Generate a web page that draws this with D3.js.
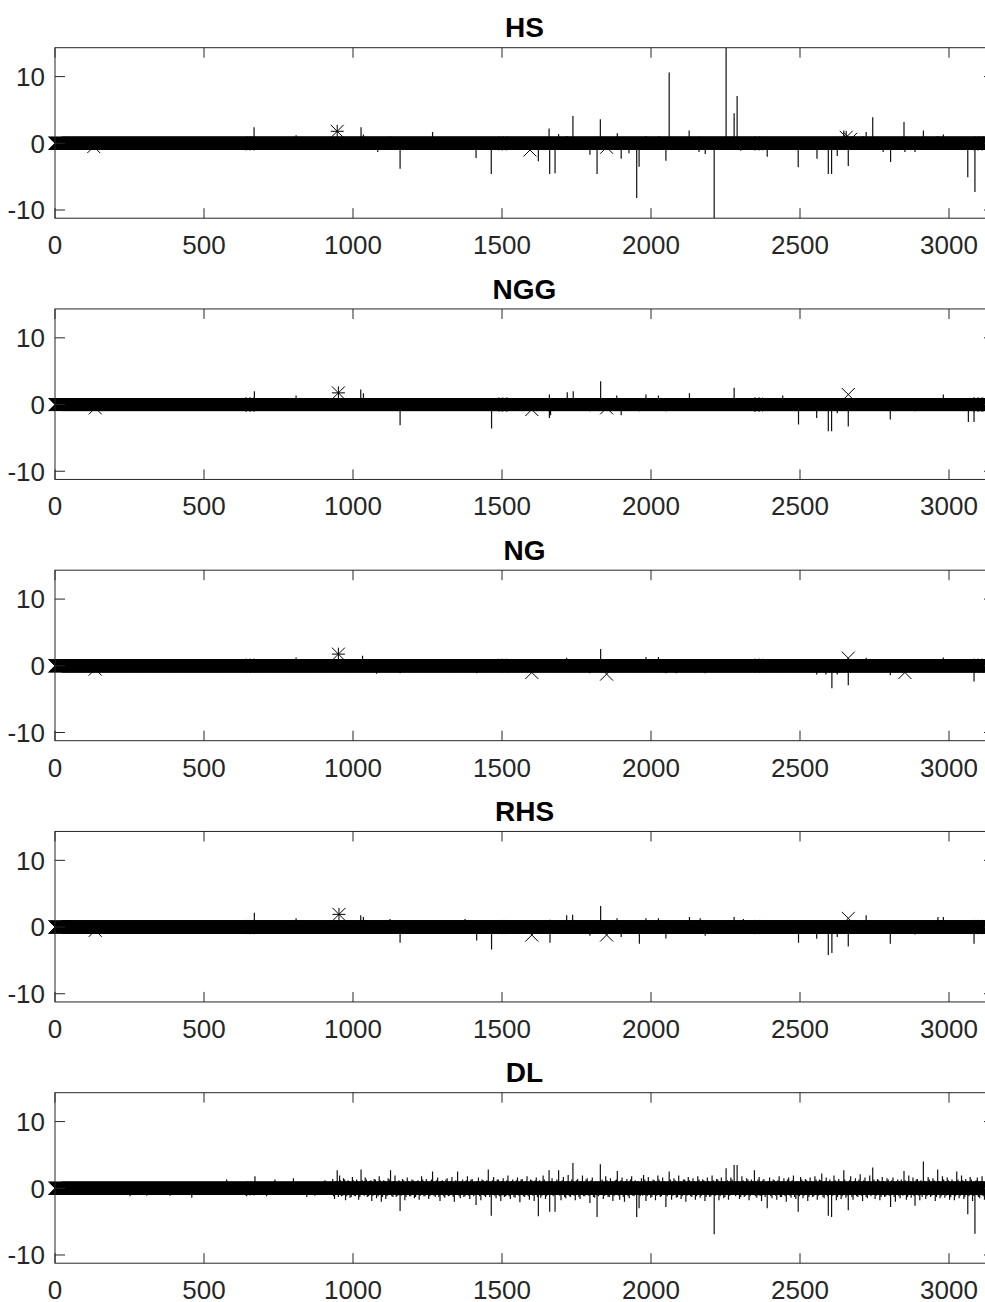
<!DOCTYPE html>
<html>
<head>
<meta charset="utf-8">
<script src="https://cdn.jsdelivr.net/npm/d3@7"></script>
<style>
  body { margin: 0; background: #fff; }
  svg { display: block; font-family: "Liberation Sans", Arial, Helvetica, sans-serif; }
</style>
</head>
<body>
<svg id="chart" width="985" height="1302"></svg>
<script>

// ---------------- data ----------------

var titles = ["HS", "NGG", "NG", "RHS", "DL"];
var xTicks = [0, 500, 1000, 1500, 2000, 2500, 3000];
var yTicks = [-10, 0, 10];
var nSamples = 3151;          // length of each signal
var yLimits = [-11.23, 14.33]; // shared y limits (tight to HS)

// stems that stick out of the marker band: [sample, value]
var hsSpikes = [
  [668, 2.4], [809, 1.2], [1027, 2.4], [1035, 1.3], [1083, -1.3], [1126, 1.0],
  [1158, -3.8], [1267, 1.7], [1413, -2.2], [1464, -4.6], [1622, -2.7],
  [1658, 2.2], [1660, -4.6], [1678, -4.5], [1690, 1.4], [1717, 1.1], [1738, 4.1],
  [1795, -1.7], [1819, -4.6], [1830, 3.6], [1887, 1.5], [1900, -2.3],
  [1926, -1.5], [1952, -8.2], [1960, -3.5], [1983, 1.1], [2027, 1.1],
  [2050, -2.6], [2061, 10.6], [2128, 1.9], [2161, 1.0], [2161, -1.3],
  [2182, -1.6], [2212, -11.23], [2252, 14.33], [2279, 4.5], [2289, 7.1],
  [2301, -1.1], [2390, -2.0], [2494, -3.6], [2557, -2.3], [2595, -4.6],
  [2606, -4.6], [2625, -1.9], [2647, 1.9], [2662, -3.4], [2675, 1.0],
  [2712, 1.1], [2722, 1.7], [2744, 3.9], [2779, -1.3], [2804, -2.8],
  [2849, 3.2], [2852, -1.3], [2886, -1.3], [2914, 1.9], [2962, 1.1],
  [2981, 1.3], [3063, -5.1], [3087, -7.3]
];

var nggSpikes = [
  [258, -0.6], [669, 2.0], [809, 1.35], [1026, 2.25], [1035, 1.7], [1079, -0.9],
  [1158, -3.1], [1415, -0.9], [1465, -3.6], [1659, 1.5], [1659, -2.0],
  [1663, -1.6], [1719, 1.85], [1739, 2.0], [1795, -1.0], [1831, 3.5],
  [1885, 1.35], [1900, -1.6], [1961, -1.0], [1983, 1.5], [2025, 1.35],
  [2050, -1.0], [2129, 1.7], [2165, -0.9], [2182, -0.9], [2279, 2.5],
  [2442, 1.35], [2495, -3.0], [2556, -2.0], [2595, -4.0], [2606, -4.0],
  [2625, -1.3], [2662, -3.3], [2803, -2.25], [2886, -1.0], [2981, 1.5],
  [3065, -2.6], [3084, -2.6]
];

var ngSpikes = [
  [520, -1.0], [547, -1.0], [809, 1.25], [1032, 1.5], [1079, -1.2],
  [1158, -1.1], [1415, -1.1], [1717, 1.2], [1795, -1.1], [1831, 2.5],
  [1983, 1.3], [2025, 1.3], [2050, -1.1], [2085, -1.1], [2182, -1.1],
  [2556, -1.3], [2587, -1.3], [2607, -3.35], [2625, -1.3], [2662, -2.9],
  [2722, 1.2], [2803, -1.4], [2981, 1.25], [3084, -2.35]
];

var rhsSpikes = [
  [669, 2.15], [809, 1.3], [1026, 1.75], [1035, 1.5], [1124, 1.2],
  [1158, -2.35], [1376, 1.2], [1415, -2.0], [1465, -3.35], [1661, 1.1],
  [1661, -2.35], [1717, 1.75], [1737, 1.85], [1795, -1.3], [1831, 3.15],
  [1886, 1.3], [1900, -1.5], [1961, -2.5], [1983, 1.3], [2025, 1.3],
  [2050, -1.7], [2129, 1.5], [2165, 1.3], [2182, -1.3], [2279, 1.5],
  [2310, 1.2], [2495, -2.35], [2556, -1.75], [2595, -4.2], [2607, -3.9],
  [2625, -1.5], [2662, -2.9], [2722, 1.75], [2787, -1.0], [2803, -2.5],
  [2886, -1.1], [2963, 1.5], [2981, 1.5], [3065, -0.9], [3084, -2.5]
];

var dlSpikes = [
  // quiet start
  [106, -0.9], [252, -1.2], [308, -1.1], [386, -1.1], [459, -1.4], [476, -1.0],
  [576, 1.3], [643, -1.2], [671, 1.8], [710, -1.2], [738, 1.3], [800, 1.5],
  [845, -1.3], [872, -1.1], [906, 1.2],
  // larger peaks
  [947, 2.7], [1027, 2.8], [1126, 2.7], [1158, -3.4], [1267, 2.5], [1351, 2.5],
  [1413, -2.5], [1454, 2.8], [1464, -4.1], [1622, -4.2], [1658, 2.7],
  [1660, -3.5], [1678, -3.5], [1690, 2.7], [1738, 3.8], [1819, -4.3],
  [1830, 3.6], [1887, 2.6], [1952, -4.3], [1960, -3.0], [1975, 2.0],
  [2050, -2.8], [2061, 2.5], [2212, -6.9], [2252, 3.0], [2279, 3.5],
  [2289, 3.5], [2347, 2.7], [2390, -3.0], [2494, -3.5], [2573, 2.2],
  [2595, -4.1], [2606, -4.3], [2647, 2.7], [2662, -3.3], [2744, 3.1],
  [2804, -2.8], [2849, 2.6], [2886, -2.6], [2914, 4.0], [2962, 2.8],
  [3026, 2.5], [3063, -3.9], [3087, -6.8],
  // dense small activity
  [932, 1.4], [938, -1.6], [955, 1.9], [961, -1.2], [968, 1.5], [975, -1.8],
  [983, 1.2], [990, -1.4], [998, 1.7], [1004, -1.1], [1012, 1.3], [1019, -1.7],
  [1041, 1.6], [1048, -1.3], [1056, 1.1], [1063, -1.9], [1071, 1.4], [1079, -1.5],
  [1088, 1.8], [1095, -2.0], [1103, 1.2], [1110, -1.6], [1118, 1.5], [1134, -1.3],
  [1141, 1.9], [1150, -1.1], [1166, 1.4], [1174, -1.8], [1182, 1.6], [1190, -1.2],
  [1198, 1.3], [1206, -1.5], [1214, 1.1], [1222, -1.7], [1230, 1.8], [1238, -1.2],
  [1246, 1.4], [1254, -1.6], [1276, -1.3], [1284, 1.6], [1292, -1.9], [1300, 1.2],
  [1308, -1.4], [1316, 1.5], [1324, -1.1], [1332, 1.7], [1340, -2.0], [1360, -1.5],
  [1368, 1.3], [1376, -1.2], [1384, 1.8], [1392, -1.6], [1400, 1.4], [1421, 1.6],
  [1429, -1.8], [1437, 1.2], [1445, -1.3], [1472, 1.7], [1480, -1.5], [1488, 1.3],
  [1496, -1.9], [1504, 1.5], [1512, -1.2], [1520, 1.9], [1528, -1.6], [1536, 1.3],
  [1544, -1.4], [1552, 1.6], [1560, -2.1], [1568, 1.4], [1576, -1.3], [1584, 1.8],
  [1592, -1.7], [1600, 1.2], [1608, -1.9], [1615, 1.6], [1630, -1.4], [1638, 1.9],
  [1646, -1.6], [1668, 1.5], [1698, -1.8], [1706, 1.7], [1714, -1.5], [1722, 2.0],
  [1730, -1.3], [1746, -1.8], [1754, 1.4], [1762, -1.6], [1770, 1.9], [1778, -1.2],
  [1786, 1.5], [1795, -2.2], [1803, 1.6], [1811, -1.4], [1840, -1.6], [1848, 1.8],
  [1856, -1.3], [1864, 1.5], [1872, -1.9], [1880, 1.2], [1895, -1.7], [1903, 1.6],
  [1911, -2.0], [1919, 1.4], [1927, -1.5], [1935, 1.8], [1943, -1.2], [1968, 1.5],
  [1983, -1.9], [1991, 1.7], [1999, -1.4], [2007, 1.3], [2015, -1.8], [2023, 1.9],
  [2031, -1.3], [2039, 1.6], [2069, -1.7], [2077, 1.5], [2085, -1.4], [2093, 1.9],
  [2101, -1.6], [2109, 1.3], [2117, -2.0], [2125, 1.7], [2133, -1.2], [2141, 1.5],
  [2149, -1.7], [2157, 1.8], [2165, -1.4], [2173, 1.3], [2181, -1.9], [2189, 1.6],
  [2197, -1.3], [2205, 1.9], [2220, 1.4], [2228, -1.8], [2236, 1.6], [2244, -1.5],
  [2260, -1.7], [2268, 1.6], [2297, -1.6], [2305, 1.8], [2313, -1.3], [2321, 1.5],
  [2329, -1.8], [2337, 1.3], [2355, -1.4], [2363, 1.7], [2371, -1.9], [2379, 1.4],
  [2398, 1.6], [2406, -1.5], [2414, 1.2], [2422, -1.7], [2430, 1.8], [2438, -1.3],
  [2446, 1.5], [2454, -2.0], [2462, 1.6], [2470, -1.4], [2478, 1.9], [2486, -1.6],
  [2502, 1.7], [2510, -1.5], [2518, 1.4], [2526, -1.9], [2534, 1.6], [2542, -1.3],
  [2550, 1.8], [2558, -1.7], [2565, 1.3], [2581, -1.5], [2588, 1.6], [2614, 1.9],
  [2622, -1.8], [2630, 1.4], [2638, -1.6], [2654, -1.4], [2670, 1.8], [2678, -1.7],
  [2686, 1.5], [2694, -1.3], [2702, 2.1], [2710, -1.9], [2718, 1.6], [2726, -1.5],
  [2734, 1.9], [2752, -1.6], [2760, 1.4], [2768, -1.8], [2776, 1.7], [2784, -1.3],
  [2792, 1.5], [2812, 1.6], [2820, -2.0], [2828, 1.3], [2836, -1.5], [2857, -1.7],
  [2865, 1.9], [2873, -1.4], [2879, 1.6], [2894, 1.4], [2902, -1.8], [2922, -1.6],
  [2930, 1.7], [2938, -1.3], [2946, 1.5], [2954, -1.9], [2970, -1.5], [2978, 1.8],
  [2986, -1.4], [2994, 1.6], [3002, -1.7], [3010, 1.3], [3018, -1.8], [3034, -1.5],
  [3042, 1.9], [3050, -1.6], [3056, 1.4], [3071, 1.7], [3079, -1.9], [3095, 1.6],
  [3103, -1.5], [3111, 1.8], [3119, -1.7], [3127, 1.4], [3135, -1.6], [3143, 1.5]
];

// finer DL activity just outside the band: [sample, value]
var dlFine = [
  [935, -1.2], [944, 1.1], [951, -1.3], [958, 1.2], [965, -1.1], [972, 1.3],
  [979, -1.2], [987, 1.1], [994, -1.3], [1001, 1.2], [1008, -1.2], [1016, 1.1],
  [1023, -1.3], [1031, 1.2], [1038, -1.1], [1045, 1.3], [1052, -1.2], [1060, 1.2],
  [1067, -1.1], [1075, 1.3], [1084, -1.2], [1091, 1.2], [1099, -1.3], [1107, 1.1],
  [1114, -1.2], [1122, 1.3], [1130, -1.2], [1137, 1.1], [1145, -1.3], [1154, 1.2],
  [1162, -1.1], [1170, 1.2], [1178, -1.3], [1186, 1.1], [1194, -1.2], [1202, 1.2],
  [1210, -1.3], [1218, 1.2], [1226, -1.1], [1234, 1.3], [1242, -1.2], [1250, 1.1],
  [1258, -1.2], [1263, 1.3], [1271, -1.1], [1280, 1.2], [1288, -1.3], [1296, 1.1],
  [1304, -1.2], [1312, 1.3], [1320, -1.2], [1328, 1.1], [1336, -1.3], [1345, 1.2],
  [1356, -1.2], [1364, 1.1], [1372, -1.3], [1380, 1.2], [1388, -1.1], [1396, 1.3],
  [1405, -1.2], [1417, 1.1], [1425, -1.2], [1433, 1.3], [1441, -1.1], [1449, 1.2],
  [1459, -1.3], [1468, 1.2], [1476, -1.1], [1484, 1.3], [1492, -1.2], [1500, 1.1],
  [1508, -1.3], [1516, 1.2], [1524, -1.2], [1532, 1.1], [1540, -1.3], [1548, 1.2],
  [1556, -1.1], [1564, 1.3], [1572, -1.2], [1580, 1.1], [1588, -1.2], [1596, 1.3],
  [1604, -1.1], [1611, 1.2], [1619, -1.3], [1626, 1.2], [1634, -1.1], [1642, 1.3],
  [1650, -1.2], [1664, 1.1], [1672, -1.2], [1684, 1.3], [1694, -1.1], [1702, 1.2],
  [1710, -1.3], [1718, 1.1], [1726, -1.2], [1734, 1.3], [1742, -1.1], [1750, 1.2],
  [1758, -1.3], [1766, 1.1], [1774, -1.2], [1782, 1.3], [1790, -1.1], [1799, 1.2],
  [1807, -1.3], [1815, 1.1], [1824, -1.2], [1836, 1.3], [1844, -1.1], [1852, 1.2],
  [1860, -1.3], [1868, 1.1], [1876, -1.2], [1884, 1.3], [1891, -1.1], [1899, 1.2],
  [1907, -1.3], [1915, 1.1], [1923, -1.2], [1931, 1.3], [1939, -1.1], [1947, 1.2],
  [1956, 1.1], [1964, -1.2], [1972, -1.1], [1979, 1.3], [1987, -1.2], [1995, 1.1],
  [2003, -1.3], [2011, 1.2], [2019, -1.1], [2027, 1.3], [2035, -1.2], [2043, 1.1],
  [2055, -1.2], [2065, 1.3], [2073, -1.1], [2081, 1.2], [2089, -1.3], [2097, 1.1],
  [2105, -1.2], [2113, 1.3], [2121, -1.1], [2129, 1.2], [2137, -1.3], [2145, 1.1],
  [2153, -1.2], [2161, 1.3], [2169, -1.1], [2177, 1.2], [2185, -1.3], [2193, 1.1],
  [2201, -1.2], [2209, 1.2], [2216, -1.1], [2224, 1.3], [2232, -1.2], [2240, 1.1],
  [2248, -1.3], [2256, 1.2], [2264, -1.1], [2272, 1.3], [2284, -1.2], [2293, 1.1],
  [2301, -1.3], [2309, 1.2], [2317, -1.1], [2325, 1.3], [2333, -1.2], [2341, 1.1],
  [2351, -1.2], [2359, 1.3], [2367, -1.1], [2375, 1.2], [2383, -1.3], [2394, 1.1],
  [2402, -1.2], [2410, 1.3], [2418, -1.1], [2426, 1.2], [2434, -1.3], [2442, 1.1],
  [2450, -1.2], [2458, 1.3], [2466, -1.1], [2474, 1.2], [2482, -1.3], [2490, 1.1],
  [2498, -1.2], [2506, 1.3], [2514, -1.1], [2522, 1.2], [2530, -1.3], [2538, 1.1],
  [2546, -1.2], [2554, 1.3], [2562, -1.1], [2569, 1.2], [2577, -1.3], [2584, 1.1],
  [2592, -1.2], [2600, 1.3], [2610, -1.1], [2618, 1.2], [2626, -1.3], [2634, 1.1],
  [2642, -1.2], [2650, 1.3], [2658, -1.1], [2666, 1.2], [2674, -1.3], [2682, 1.1],
  [2690, -1.2], [2698, 1.3], [2706, -1.1], [2714, 1.2], [2722, -1.3], [2730, 1.1],
  [2738, -1.2], [2748, 1.3], [2756, -1.1], [2764, 1.2], [2772, -1.3], [2780, 1.1],
  [2788, -1.2], [2796, 1.3], [2800, -1.1], [2808, 1.2], [2816, -1.3], [2824, 1.1],
  [2832, -1.2], [2840, 1.3], [2845, -1.1], [2853, 1.2], [2861, -1.3], [2869, 1.1],
  [2883, -1.2], [2890, 1.3], [2898, -1.1], [2906, 1.2], [2910, -1.3], [2918, 1.1],
  [2926, -1.2], [2934, 1.3], [2942, -1.1], [2950, 1.2], [2958, -1.3], [2966, 1.1],
  [2974, -1.2], [2982, 1.3], [2990, -1.1], [2998, 1.2], [3006, -1.3], [3014, 1.1],
  [3022, -1.2], [3030, 1.3], [3038, -1.1], [3046, 1.2], [3053, -1.3], [3060, 1.1],
  [3067, -1.2], [3075, 1.3], [3083, -1.1], [3091, 1.2], [3099, -1.3], [3107, 1.1],
  [3115, -1.2], [3123, 1.3], [3131, -1.1], [3139, 1.2], [3147, -1.3]
];

// markers sitting off the zero band: [sample, value, symbol]
var hsMarks = [[947, 1.8, "*"], [130, -0.5, "x"], [1594, -1.0, "x"], [1851, -0.6, "x"], [2655, 0.9, "*"], [2670, 0.6, "x"]];
var nggMarks = [[951, 1.75, "*"], [135, -0.5, "x"], [1600, -0.75, "x"], [1851, -0.5, "x"], [2662, 1.5, "x"]];
var ngMarks = [[951, 1.75, "*"], [135, -0.5, "x"], [1600, -1.0, "x"], [1851, -1.25, "x"], [2662, 1.15, "x"], [2852, -1.0, "x"]];
var rhsMarks = [[953, 1.9, "*"], [135, -0.5, "x"], [1600, -1.2, "x"], [1851, -1.2, "x"], [2662, 1.3, "x"]];
var dlMarks = [];

// ---------------- layout ----------------

var svg = d3.select("#chart");
var marginLeft = 55, plotRight = 994;
var plotH = 170.5, firstTop = 47.7, step = 261.25;
var ink = "#262626";

var x = d3.scaleLinear().domain([0, nSamples]).range([marginLeft, plotRight]);

var panels = [
  { title: titles[0], spikes: hsSpikes, marks: hsMarks },
  { title: titles[1], spikes: nggSpikes, marks: nggMarks },
  { title: titles[2], spikes: ngSpikes, marks: ngMarks },
  { title: titles[3], spikes: rhsSpikes, marks: rhsMarks },
  { title: titles[4], spikes: dlSpikes.concat(dlFine), marks: dlMarks }
];

var M = 6.5; // marker half size
var xPath = "M" + (-M) + "," + (-M) + "L" + M + "," + M + "M" + (-M) + "," + M + "L" + M + "," + (-M);
var starPath = xPath + "M0," + (-M) + "L0," + M + "M" + (-M) + ",0L" + M + ",0";

var samples = d3.range(0, nSamples + 1);

panels.forEach(function (p, i) {
  var top = firstTop + i * step;
  var y = d3.scaleLinear().domain(yLimits).range([top + plotH, top]);
  var g = svg.append("g");

  svg.append("clipPath").attr("id", "clip" + i)
    .append("rect").attr("x", marginLeft).attr("y", top)
    .attr("width", plotRight - marginLeft).attr("height", plotH);

  // stems
  g.append("g").attr("clip-path", "url(#clip" + i + ")")
    .selectAll("line")
    .data(p.spikes)
    .enter()
    .append("line")
    .attr("x1", function (d) { return x(d[0]); })
    .attr("x2", function (d) { return x(d[0]); })
    .attr("y1", y(0))
    .attr("y2", function (d) { return y(d[1]); })
    .attr("stroke", "#111")
    .attr("stroke-width", 1.2);

  // zero band of 'x' markers, one per sample
  var bandPath = samples.map(function (s) {
    var cx = x(s), cy = y(0);
    return "M" + (cx - M) + "," + (cy - M) + "L" + (cx + M) + "," + (cy + M) +
           "M" + (cx - M) + "," + (cy + M) + "L" + (cx + M) + "," + (cy - M);
  }).join("");
  g.append("path").attr("d", bandPath)
    .attr("fill", "none").attr("stroke", "#000").attr("stroke-width", 1);

  // isolated markers
  g.selectAll("path.mk")
    .data(p.marks)
    .enter()
    .append("path")
    .attr("class", "mk")
    .attr("transform", function (d) { return "translate(" + x(d[0]) + "," + y(d[1]) + ")"; })
    .attr("d", function (d) { return d[2] == "*" ? starPath : xPath; })
    .attr("fill", "none").attr("stroke", "#000").attr("stroke-width", 1);

  // box
  g.append("rect")
    .attr("x", marginLeft).attr("y", top)
    .attr("width", plotRight - marginLeft).attr("height", plotH)
    .attr("fill", "none").attr("stroke", ink).attr("stroke-width", 1);

  // ticks (inward, on all four sides)
  var tl = 10;
  xTicks.forEach(function (t) {
    g.append("line").attr("x1", x(t)).attr("x2", x(t))
      .attr("y1", top + plotH).attr("y2", top + plotH - tl).attr("stroke", ink);
    g.append("line").attr("x1", x(t)).attr("x2", x(t))
      .attr("y1", top).attr("y2", top + tl).attr("stroke", ink);
    g.append("text").attr("x", x(t)).attr("y", top + plotH + 36)
      .attr("text-anchor", "middle").attr("font-size", 26).attr("fill", ink)
      .text(t);
  });
  yTicks.forEach(function (t) {
    g.append("line").attr("x1", marginLeft).attr("x2", marginLeft + tl)
      .attr("y1", y(t)).attr("y2", y(t)).attr("stroke", ink);
    g.append("line").attr("x1", plotRight).attr("x2", plotRight - tl)
      .attr("y1", y(t)).attr("y2", y(t)).attr("stroke", ink);
    g.append("text").attr("x", 45).attr("y", y(t)).attr("dy", "0.36em")
      .attr("text-anchor", "end").attr("font-size", 26).attr("fill", ink)
      .text(t);
  });

  // title
  g.append("text").attr("x", (marginLeft + plotRight) / 2).attr("y", top - 10.4)
    .attr("text-anchor", "middle").attr("font-size", 28).attr("font-weight", "bold")
    .attr("fill", "#000").text(p.title);
});
</script>
</body>
</html>
